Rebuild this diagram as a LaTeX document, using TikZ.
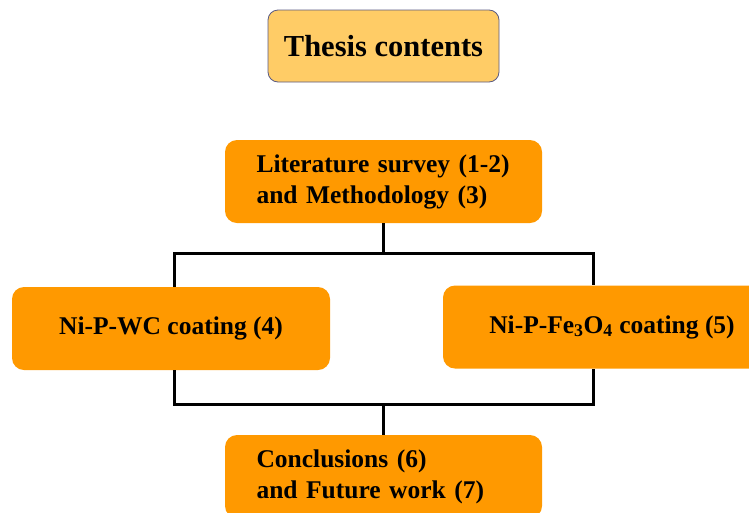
\documentclass[tikz,border=0pt]{standalone}
\usepackage{fontspec}
\setmainfont{Liberation Serif}
\usetikzlibrary{positioning}
\definecolor{boxorange}{RGB}{255,153,0}
\definecolor{titlefill}{RGB}{255,204,102}
\definecolor{titleline}{RGB}{90,90,130}
\tikzset{
    titlebox/.style = {
        draw=titleline,
        line width=0.8pt,
        fill=titlefill,
        rectangle,
        rounded corners=10pt,
        minimum width=231pt,
        minimum height=72pt,
        font=\fontsize{30.5}{36}\selectfont\bfseries
    },
    block/.style = {
        fill=boxorange,
        rectangle,
        rounded corners=12pt,
        minimum height=83pt,
        font=\fontsize{25.5}{31}\selectfont\bfseries
    },
    block2/.style = {
        block,
        text width=254pt,
        inner xsep=31.5pt,
        align=left
    },
    link/.style = {
        line width=3pt
    }
}

\begin{document}
\begin{tikzpicture}[x=1pt, y=-1pt, node distance=2cm]
    \useasboundingbox (0,0) rectangle (749,512);
    \clip (0,0) rectangle (749,512);
    % nodes
    \node [titlebox] (title) at (383.5,46) {Thesis contents};
    \node [block2,below of=title,node distance=135.5pt] (survey) {Literature survey (1-2)\\and Methodology (3)};
    \node [block,minimum width=318pt] (wc) at (171,328.5) {Ni-P-WC coating (4)};
    \node [block,minimum width=338pt] (fe) at (612,327) {Ni-P-Fe\textsubscript{3}O\textsubscript{4} coating (5)};
    \node [block2,below of=survey,node distance=295pt] (conc) {Conclusions (6)\\and Future work (7)};
    \coordinate (jtop) at (383.5,253);
    \coordinate (jbot) at (383.5,404);

    % connectors
    \draw [link] (survey) -- (jtop);
    \draw [link] ([xshift=3pt]wc.north) |- (jtop) -| ([xshift=-19pt]fe.north);
    \draw [link] ([xshift=3pt]wc.south) |- (jbot) -| ([xshift=-19pt]fe.south);
    \draw [link] (jbot) -- (conc);
\end{tikzpicture}
\end{document}
